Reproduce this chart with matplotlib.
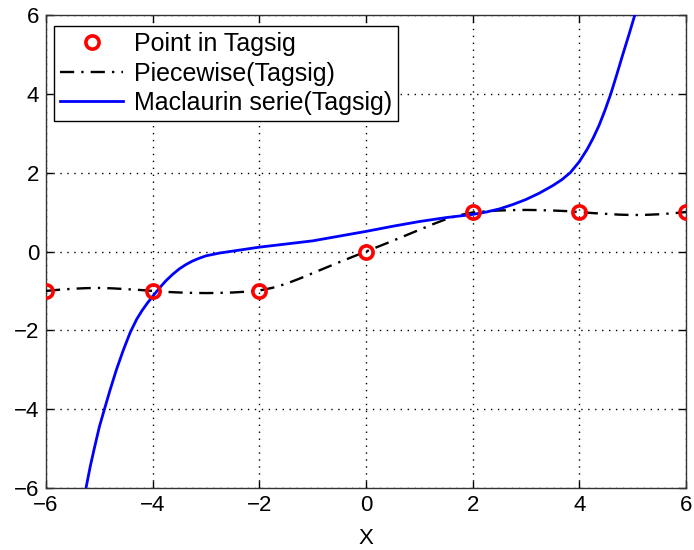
import matplotlib
matplotlib.use("Agg")
import matplotlib.pyplot as plt

# Data points ("Point in Tagsig")
pt_x = [-6, -4, -2, 0, 2, 4, 6]
pt_y = [-1, -1, -1, 0, 1, 1, 1]

# Piecewise (spline through the points)
pw_x = [-6, -5.75, -5.5, -5.25, -5, -4.75, -4.5, -4.25, -4, -3.75, -3.5,
        -3.25, -3, -2.75, -2.5, -2.25, -2, -1.75, -1.5, -1.25, -1, -0.75,
        -0.5, -0.25, 0, 0.25, 0.5, 0.75, 1, 1.25, 1.5, 1.75, 2, 2.25, 2.5,
        2.75, 3, 3.25, 3.5, 3.75, 4, 4.25, 4.5, 4.75, 5, 5.25, 5.5, 5.75, 6]
pw_y = [-1.0, -0.97, -0.945, -0.93, -0.925, -0.935, -0.955, -0.975, -1.0,
        -1.025, -1.04, -1.05, -1.055, -1.05, -1.04, -1.02, -0.99, -0.92,
        -0.82, -0.69, -0.55, -0.41, -0.27, -0.135, 0.0, 0.135, 0.27, 0.41,
        0.55, 0.69, 0.82, 0.92, 0.99, 1.02, 1.04, 1.05, 1.055, 1.05, 1.04,
        1.025, 1.0, 0.975, 0.955, 0.935, 0.925, 0.93, 0.945, 0.97, 1.0]

# Maclaurin series, values
mc_x = [-5.25, -5.17, -5.09, -5.0, -4.9, -4.8, -4.68, -4.55, -4.42, -4.3,
        -4.2, -4.1, -4.0, -3.875, -3.75, -3.625, -3.5, -3.375, -3.25,
        -3.125, -3.0, -2.75, -2.5, -2.25, -2.0, -1.5, -1.0, -0.5, 0.0, 0.5,
        1.0, 1.5, 2.0, 2.25, 2.5, 2.75, 3.0, 3.25, 3.5, 3.67, 3.83, 4.0,
        4.15, 4.26, 4.37, 4.48, 4.59, 4.7, 4.82, 4.93, 5.04]
mc_y = [-6.0, -5.45, -4.97, -4.45, -3.98, -3.52, -3.0, -2.5, -2.05, -1.72,
        -1.5, -1.31, -1.14, -0.93, -0.74, -0.58, -0.44, -0.33, -0.24,
        -0.17, -0.11, -0.04, 0.01, 0.06, 0.11, 0.19, 0.27, 0.39, 0.51, 0.64,
        0.76, 0.86, 0.94, 1.0, 1.08, 1.19, 1.32, 1.48, 1.67, 1.82, 2.0, 2.28,
        2.6, 2.88, 3.2, 3.58, 4.0, 4.48, 5.02, 5.5, 6.0]

ticks = [-6, -4, -2, 0, 2, 4, 6]

plt.rcParams['font.family'] = ['Liberation Sans', 'DejaVu Sans']

fig = plt.figure(figsize=(6.94, 5.5), dpi=100)
ax = fig.add_axes([46/694, 62/550, 640/694, 473/550])

ax.plot(pt_x, pt_y, 'o', color='red', markerfacecolor='none',
        markersize=9.5, markeredgewidth=2.6, label='Point in Tagsig', zorder=4)
ax.plot(pw_x, pw_y, color='black', linestyle=(0, (6, 3, 1, 3)),
        linewidth=1.7, label='Piecewise(Tagsig)', zorder=3)
ax.plot(mc_x, mc_y, color='#0000ff', linewidth=2.0,
        label='Maclaurin serie(Tagsig)', zorder=3)

ax.set_xlim(-6, 6)
ax.set_ylim(-6, 6)
ax.set_xticks(ticks)
ax.set_yticks(ticks)
ax.tick_params(direction='in', length=5, width=1, top=True, right=True,
               labelsize=16, pad=5)
ax.grid(True, color='black', linestyle=(0, (1, 4)), linewidth=1.0)
for s in ax.spines.values():
    s.set_linewidth(1.0)
    s.set_color('#333333')

ax.set_xlabel('X', fontsize=16, labelpad=9)

leg = ax.legend(loc='upper left', bbox_to_anchor=(0.0125, 0.977),
                fontsize=18, frameon=True, fancybox=False, framealpha=1,
                edgecolor='black', handlelength=2.5, borderaxespad=0,
                borderpad=0.25, labelspacing=0.22, handletextpad=0.45)
leg.get_frame().set_linewidth(1.0)

fig.savefig('out.png', dpi=100)
